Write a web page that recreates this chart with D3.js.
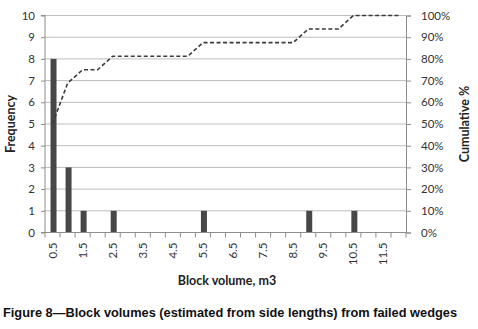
<!DOCTYPE html>
<html lang="en">
<head>
  <meta charset="UTF-8">
  <title>Block volumes histogram</title>
  <script src="https://d3js.org/d3.v7.min.js"></script>
  <style>
    body {
      margin: 0;
      background: #fff;
    }

    svg {
      display: block;
    }

    .tick text {
      font-family: Lato, "Open Sans", sans-serif;
      font-size: 11.5px;
      fill: #333;
    }

    .axis-title {
      font-family: Lato, "Open Sans", sans-serif;
      font-size: 12.5px;
      font-weight: bold;
      fill: #222;
    }

    .caption {
      font-family: "Liberation Sans", Arial, sans-serif;
      font-size: 12.5px;
      font-weight: bold;
      fill: #111;
    }
  </style>
</head>
<body>

  <svg id="chart" width="478" height="329"></svg>

  <script>
    // Block volume classes (m3), one per column
    const volumes = ["0.5", "1", "1.5", "2", "2.5", "3", "3.5", "4", "4.5", "5", "5.5", "6",
                     "6.5", "7", "7.5", "8", "8.5", "9", "9.5", "10", "10.5", "11", "11.5", "12"];
    // How many wedges in each class
    const frequency = [8, 3, 1, 0, 1, 0, 0, 0, 0, 0, 1, 0,
                       0, 0, 0, 0, 0, 1, 0, 0, 1, 0, 0, 0];
    // Cumulative share, in percent
    const cumulative = [50, 68.75, 75, 75, 81.25, 81.25, 81.25, 81.25, 81.25, 81.25, 87.5, 87.5,
                        87.5, 87.5, 87.5, 87.5, 87.5, 93.75, 93.75, 93.75, 100, 100, 100, 100];
    const freqTicks = [0, 1, 2, 3, 4, 5, 6, 7, 8, 9, 10];
    const pctTicks = [0, 10, 20, 30, 40, 50, 60, 70, 80, 90, 100];
    const xLabels = ["0.5", "1.5", "2.5", "3.5", "4.5", "5.5", "6.5", "7.5", "8.5", "9.5", "10.5", "11.5"];

    const svg = d3.select("#chart");
    const plotLeft = 45, plotRight = 406, plotTop = 15.5, plotBottom = 232.5;

    const x = d3.scaleBand()
      .domain(volumes)
      .range([plotLeft, plotRight])
      .padding(0);

    const yFreq = d3.scaleLinear().domain([0, 10]).range([plotBottom, plotTop]);
    const yPct = d3.scaleLinear().domain([0, 100]).range([plotBottom, plotTop]);

    // horizontal grid
    svg.append("g")
      .selectAll("line")
      .data(freqTicks.slice(1))
      .enter().append("line")
      .attr("x1", plotLeft)
      .attr("x2", plotRight)
      .attr("y1", d => yFreq(d))
      .attr("y2", d => yFreq(d))
      .attr("stroke", "#bdbdbd")
      .attr("stroke-width", 1);

    // bars
    const barW = 6;
    svg.append("g")
      .selectAll("rect")
      .data(volumes)
      .enter().append("rect")
      .attr("x", (d, i) => x(d) + x.bandwidth() / 2 - barW / 2 + 1)
      .attr("y", (d, i) => yFreq(frequency[i]))
      .attr("width", barW)
      .attr("height", (d, i) => plotBottom - yFreq(frequency[i]))
      .attr("fill", "#474747");

    // cumulative line
    const line = d3.line()
      .x((d, i) => x(volumes[i]) + x.bandwidth() / 2)
      .y(d => yPct(d));

    svg.append("path")
      .datum(cumulative)
      .attr("d", line)
      .attr("fill", "none")
      .attr("stroke", "#3a3a3a")
      .attr("stroke-width", 1.6)
      .attr("stroke-dasharray", "4,2.5");

    // left axis
    const leftAxis = svg.append("g")
      .attr("transform", `translate(${plotLeft},0)`)
      .call(d3.axisLeft(yFreq).tickValues(freqTicks).tickSize(4).tickPadding(6));

    // right axis
    const rightAxis = svg.append("g")
      .attr("transform", `translate(${plotRight},0)`)
      .call(d3.axisRight(yPct).tickValues(pctTicks).tickSize(5).tickPadding(10).tickFormat(d => d + "%"));

    // bottom axis: ticks sit on the band edges, labels on every other band
    const xAxis = svg.append("g")
      .attr("transform", `translate(0,${plotBottom})`);

    xAxis.append("line")
      .attr("x1", plotLeft).attr("x2", plotRight)
      .attr("stroke", "#8c8c8c");

    xAxis.selectAll(".xtick")
      .data(volumes.concat(["end"]))
      .enter().append("line")
      .attr("class", "xtick")
      .attr("x1", (d, i) => plotLeft + i * x.bandwidth())
      .attr("x2", (d, i) => plotLeft + i * x.bandwidth())
      .attr("y1", 0)
      .attr("y2", 5)
      .attr("stroke", "#8c8c8c");

    xAxis.selectAll(".xlab")
      .data(xLabels)
      .enter().append("text")
      .attr("class", "xlab")
      .attr("transform", d => `translate(${x(d) + x.bandwidth() / 2 + 4},10) rotate(-90)`)
      .attr("text-anchor", "end")
      .style("font-family", "Lato, 'Open Sans', sans-serif")
      .style("font-size", "11.5px")
      .style("fill", "#333")
      .text(d => d);

    [leftAxis, rightAxis].forEach(g => {
      g.select(".domain").attr("stroke", "#8c8c8c");
      g.selectAll(".tick line").attr("stroke", "#8c8c8c");
    });
    leftAxis.select(".domain").attr("d", `M-4,${plotBottom}H0V${plotTop}H-4`);

    // axis titles
    svg.append("text")
      .attr("class", "axis-title")
      .attr("transform", `translate(15,${(plotTop + plotBottom) / 2}) rotate(-90)`)
      .attr("text-anchor", "middle")
      .text("Frequency");

    svg.append("text")
      .attr("class", "axis-title")
      .attr("transform", `translate(469,${(plotTop + plotBottom) / 2}) rotate(-90)`)
      .attr("text-anchor", "middle")
      .text("Cumulative %");

    svg.append("text")
      .attr("class", "axis-title")
      .attr("x", 227)
      .attr("y", 285)
      .attr("text-anchor", "middle")
      .text("Block volume, m3");

    svg.append("text")
      .attr("class", "caption")
      .attr("x", 3)
      .attr("y", 317)
      .attr("textLength", 454)
      .attr("lengthAdjust", "spacingAndGlyphs")
      .text("Figure 8\u2014Block volumes (estimated from side lengths) from failed wedges");
  </script>

</body>
</html>
